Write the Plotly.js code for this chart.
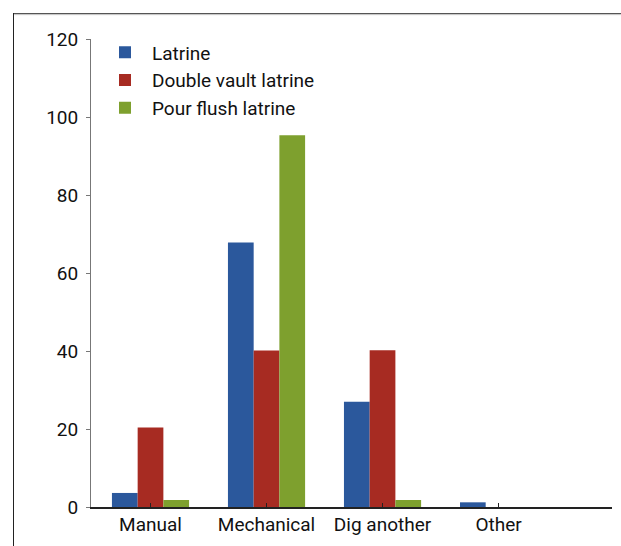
<!DOCTYPE html>
<html>
<head>
<meta charset="utf-8">
<script src="https://cdn.plot.ly/plotly-3.0.1.min.js"></script>
<style>
  html, body { margin: 0; padding: 0; background: #fff; }
  #wrap { position: relative; width: 621px; height: 546px; overflow: hidden; }
  #chart { position: absolute; left: 0; top: 0; width: 621px; height: 546px; }
  #frameTop { position: absolute; left: 14px; top: 13px; width: 607px; height: 0; border-top: 1.5px solid #555; box-shadow: 0 1px 1px #bbb; }
  #frameLeft { position: absolute; left: 13px; top: 13px; width: 0; height: 533px; border-left: 1.5px solid #222; }
</style>
</head>
<body>
<div id="wrap">
  <div id="chart"></div>
  <div id="frameTop"></div>
  <div id="frameLeft"></div>
</div>
<script>
const categories = ["Manual", "Mechanical", "Dig another", "Other"];
const seriesNames = ["Latrine", "Double vault latrine", "Pour flush latrine"];
const latrine = [3.6, 67.8, 27, 1.2];
const doubleVault = [20.4, 40.1, 40.2, 0];
const pourFlush = [1.8, 95.3, 1.8, 0];
const yTicks = [0, 20, 40, 60, 80, 100, 120];

const colors = ["#2B589C", "#A72B22", "#7EA02E"];
const seriesValues = [latrine, doubleVault, pourFlush];

const traces = seriesValues.map((vals, i) => ({
  type: "bar",
  name: seriesNames[i],
  x: categories,
  y: vals,
  marker: { color: colors[i], line: { width: 0 } },
  legendgroup: "g" + i,
  hoverinfo: "none"
}));

const layout = {
  width: 621,
  height: 546,
  margin: { l: 91, r: 9, t: 39, b: 39, pad: 0 },
  paper_bgcolor: "#fff",
  plot_bgcolor: "#fff",
  font: { family: "Roboto, 'DejaVu Sans', sans-serif", size: 19, color: "#111" },
  barmode: "group",
  bargap: 0.335,
  bargroupgap: 0,
  showlegend: true,
  legend: {
    x: 7 / 521, xref: "paper",
    y: 1.012, yanchor: "top",
    bgcolor: "rgba(0,0,0,0)",
    borderwidth: 0,
    itemwidth: 44,
    traceorder: "grouped",
    tracegroupgap: 0,
    font: { family: "Roboto, sans-serif", size: 19, color: "#111" },
    itemclick: false
  },
  xaxis: {
    type: "category",
    range: [-0.513, 3.978],
    showline: true,
    linecolor: "#222",
    linewidth: 1.5,
    ticks: "inside",
    ticklen: 4,
    tickwidth: 1,
    tickcolor: "#222",
    showgrid: false,
    zeroline: false,
    ticklabelstandoff: 0,
    tickfont: { size: 19 }
  },
  yaxis: {
    range: [0, 120],
    tickvals: yTicks,
    ticktext: yTicks.map(String),
    showline: true,
    linecolor: "#777",
    linewidth: 1,
    ticks: "outside",
    ticklen: 4,
    tickwidth: 1,
    tickcolor: "#777",
    showgrid: false,
    zeroline: false,
    ticklabelstandoff: 4,
    tickfont: { size: 19 }
  }
};

Plotly.newPlot("chart", traces, layout, { staticPlot: true, displayModeBar: false });
</script>
</body>
</html>
